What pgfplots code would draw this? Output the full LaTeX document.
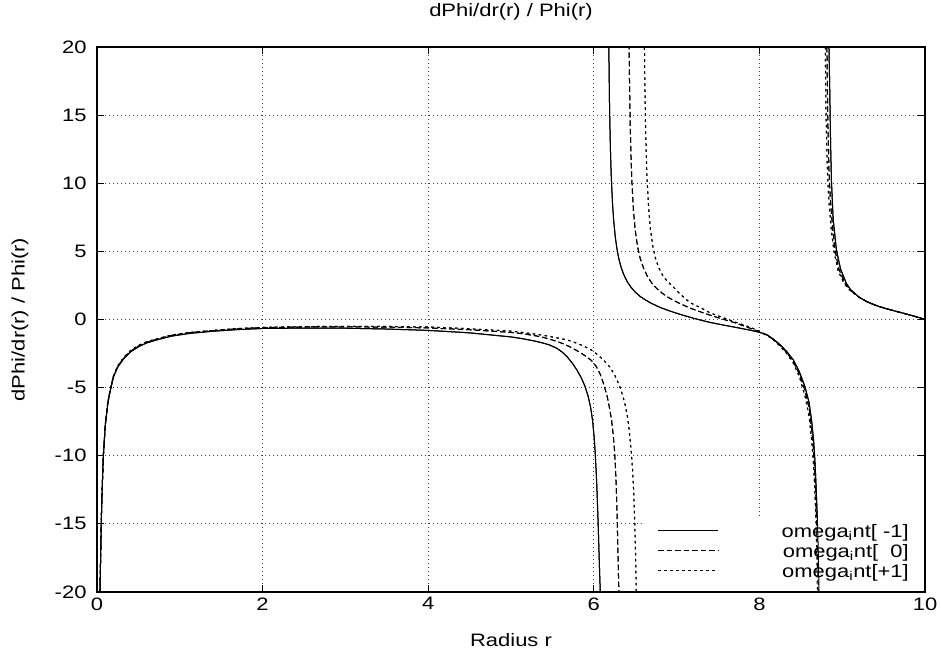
\documentclass[border=0pt]{standalone}
\usepackage{fontspec}
\setmainfont{Liberation Sans}[FakeStretch=1.22]
\usepackage{pgfplots}
\usepackage{pgfplotstable}
\pgfplotsset{compat=1.18}

% omega_int[-1]
\pgfplotstableread{
x y
0.036 -20
0.045 -17
0.055 -14
0.065 -12
0.076 -10.1
0.1 -7.8
0.13 -6.2
0.157 -5.3
0.2 -4.2
0.25 -3.5
0.32 -2.9
0.4 -2.4
0.5 -2.0
0.6 -1.72
0.72 -1.5
0.9 -1.22
1.12 -1.02
1.4 -0.86
1.7 -0.74
2.0 -0.66
2.5 -0.63
3.0 -0.64
3.5 -0.7
4.0 -0.8
4.5 -0.98
5.0 -1.28
5.11 -1.38
5.2 -1.48
5.3 -1.6
5.4 -1.75
5.47 -1.88
5.55 -2.1
5.62 -2.4
5.68 -2.75
5.74 -3.2
5.8 -3.75
5.85 -4.3
5.89 -4.85
5.93 -5.6
5.96 -6.4
5.985 -7.4
6.005 -8.7
6.02 -10.1
6.035 -12
6.05 -14.5
6.06 -16.5
6.07 -18.5
6.078 -20
nan nan
6.18 20.6
6.19 15.64
6.20 12.63
6.21 10.62
6.225 8.6
6.24 7.26
6.26 6.02
6.28 5.17
6.30 4.52
6.33 3.82
6.36 3.32
6.40 2.81
6.45 2.36
6.5 2.01
6.56 1.69
6.62 1.45
6.7 1.17
6.8 0.89
6.9 0.66
7.0 0.46
7.1 0.27
7.2 0.1
7.3 -0.06
7.4 -0.21
7.5 -0.33
7.6 -0.45
7.7 -0.56
7.8 -0.68
7.9 -0.8
8.0 -0.94
8.1 -1.15
8.17 -1.45
8.25 -1.85
8.33 -2.35
8.41 -2.97
8.48 -3.8
8.55 -4.93
8.6 -6.1
8.63 -7.4
8.655 -8.9
8.67 -10.3
8.685 -12.3
8.70 -14.7
8.71 -16.8
8.72 -20
nan nan
8.84 20
8.85 16.7
8.86 12.8
8.87 10.2
8.89 7.4
8.93 5.1
8.98 3.7
9.05 2.65
9.1 2.2
9.2 1.65
9.3 1.3
9.4 1.05
9.5 0.85
9.6 0.68
9.7 0.52
9.8 0.36
9.9 0.19
10 0
}\serA

% omega_int[0]
\pgfplotstableread{
x y
0.036 -20
0.045 -17
0.055 -14
0.065 -12
0.076 -10.05
0.1 -7.75
0.13 -6.15
0.157 -5.25
0.2 -4.15
0.25 -3.45
0.32 -2.85
0.4 -2.35
0.5 -1.95
0.6 -1.67
0.72 -1.45
0.9 -1.17
1.12 -0.97
1.4 -0.82
1.7 -0.68
2.0 -0.6
2.5 -0.55
3.0 -0.54
3.5 -0.56
4.0 -0.62
4.5 -0.75
5.0 -0.95
5.11 -1.02
5.2 -1.1
5.3 -1.2
5.4 -1.33
5.47 -1.45
5.55 -1.6
5.63 -1.78
5.71 -2.0
5.8 -2.3
5.88 -2.6
5.97 -3.0
6.03 -3.45
6.08 -4.05
6.12 -4.75
6.16 -5.6
6.19 -6.5
6.215 -7.4
6.235 -8.5
6.25 -9.6
6.262 -10.9
6.273 -12.6
6.282 -14.6
6.29 -16.7
6.297 -18.5
6.303 -20
nan nan
6.425 20.85
6.43 17.95
6.44 14.18
6.45 11.76
6.46 10.08
6.48 7.91
6.5 6.56
6.53 5.29
6.56 4.49
6.6 3.78
6.65 3.13
6.7 2.68
6.76 2.27
6.83 1.91
6.9 1.62
6.96 1.41
7.05 1.14
7.15 0.87
7.25 0.64
7.36 0.41
7.48 0.17
7.6 -0.05
7.7 -0.23
7.8 -0.45
7.9 -0.67
8.0 -0.9
8.1 -1.17
8.17 -1.48
8.25 -1.9
8.33 -2.42
8.41 -3.08
8.48 -3.97
8.55 -5.2
8.6 -6.5
8.63 -8.0
8.65 -9.3
8.665 -10.8
8.68 -12.8
8.69 -14.6
8.70 -16.8
8.71 -20
nan nan
8.815 20
8.825 15
8.84 11
8.855 9
8.88 7
8.91 5.2
8.96 3.7
9.03 2.7
9.1 2.15
9.2 1.65
9.3 1.3
9.4 1.05
9.5 0.85
9.6 0.68
9.7 0.52
9.8 0.36
9.9 0.19
10 0
}\serB

% omega_int[+1]
\pgfplotstableread{
x y
0.036 -20
0.045 -17
0.055 -14
0.065 -12
0.076 -10
0.1 -7.7
0.13 -6.1
0.157 -5.2
0.2 -4.1
0.25 -3.4
0.32 -2.8
0.4 -2.3
0.5 -1.9
0.6 -1.63
0.72 -1.42
0.9 -1.14
1.12 -0.95
1.4 -0.8
1.7 -0.66
2.0 -0.58
2.5 -0.52
3.0 -0.5
3.5 -0.51
4.0 -0.55
4.5 -0.68
5.0 -0.85
5.11 -0.93
5.2 -1.0
5.3 -1.08
5.4 -1.17
5.47 -1.25
5.55 -1.34
5.63 -1.44
5.71 -1.56
5.8 -1.75
5.88 -1.96
5.97 -2.24
6.05 -2.6
6.12 -3.0
6.19 -3.46
6.25 -4.05
6.31 -4.85
6.35 -5.6
6.38 -6.3
6.405 -7.1
6.425 -8.0
6.44 -8.9
6.455 -9.9
6.47 -11.2
6.482 -12.7
6.492 -14.4
6.5 -16.2
6.507 -18.1
6.513 -20
nan nan
6.61 20.85
6.615 17.99
6.625 14.18
6.635 11.76
6.645 10.08
6.665 7.91
6.685 6.56
6.715 5.29
6.745 4.49
6.785 3.78
6.835 3.2
6.885 2.82
6.95 2.45
7.02 2.0
7.1 1.55
7.16 1.25
7.2 1.12
7.3 0.83
7.4 0.5
7.5 0.27
7.6 0.05
7.7 -0.17
7.8 -0.38
7.9 -0.6
8.0 -0.85
8.1 -1.2
8.17 -1.5
8.25 -1.95
8.33 -2.5
8.41 -3.2
8.48 -4.15
8.55 -5.6
8.6 -7.1
8.63 -8.8
8.65 -10.3
8.665 -12
8.68 -14.3
8.69 -16.5
8.70 -20
nan nan
8.795 20
8.805 15
8.82 11
8.84 8.6
8.87 6.5
8.9 5.0
8.95 3.6
9.02 2.65
9.1 2.1
9.2 1.65
9.3 1.3
9.4 1.05
9.5 0.85
9.6 0.68
9.7 0.52
9.8 0.36
9.9 0.19
10 0
}\serC

\newcommand{\gfont}{\fontsize{18}{21}\selectfont}

\pgfplotsset{
  base/.style={
    at={(97pt,68pt)}, anchor=south west,
    scale only axis, width=828pt, height=545pt,
    xmin=0, xmax=10, ymin=-20, ymax=20,
    unbounded coords=jump,
  },
  solidA/.style={black, line width=1pt, solid},
  dashB/.style={black, line width=1pt, dash pattern=on 5.5pt off 3pt},
  dotC/.style={black, line width=1pt, dash pattern=on 2.5pt off 3.5pt},
}

\begin{document}
\begin{tikzpicture}
\path[use as bounding box] (0,0) rectangle (941pt,660pt);
\begin{axis}[
  base,
  axis line style={line width=1.2pt},
  xtick={0,2,4,6,8,10},
  ytick={-20,-15,-10,-5,0,5,10,15,20},
  xticklabels={0,2,4,6,8,10},
  yticklabels={-20,-15,-10,-5,0,5,10,15,20},
  tick align=inside,
  major tick length=7pt,
  tick style={black, line width=1pt},
  grid=major,
  major grid style={black!75, line width=0.8pt, dash pattern=on 1pt off 3pt},
  tick label style={font=\gfont},
  yticklabel style={xshift=-7pt},
  xticklabel style={yshift=-2pt},
  title={dPhi/dr(r) / Phi(r)},
  title style={font=\gfont, at={(axis description cs:0.5,1.0532)}, anchor=center},
  xlabel={Radius r},
  xlabel style={font=\gfont, at={(axis description cs:0.5,-0.088)}, anchor=center},
  ylabel={dPhi/dr(r) / Phi(r)},
  ylabel style={font=\gfont, at={(axis description cs:-0.093,0.5)}, anchor=center, rotate=0},
  legend style={at={(rel axis cs:1,0)}, anchor=south east, xshift=-1pt, yshift=1pt,
    draw=none, fill=white,
    inner xsep=15pt, inner ysep=6pt, row sep=0pt, font=\gfont,
    nodes={inner sep=0pt, text height=13pt, text depth=7pt},
    /tikz/every odd column/.append style={column sep=63pt}},
  legend cell align=right,
  legend image code/.code={\draw[#1] (0pt,4.5pt) -- (60pt,4.5pt);},
]
\addplot[solidA] table {\serA};
\addlegendentry{omega\textsubscript{i}nt[ -1]}
\addplot[dashB] table {\serB};
\addlegendentry{omega\textsubscript{i}nt[\ \ 0]}
\addplot[dotC] table {\serC};
\addlegendentry{omega\textsubscript{i}nt[+1]}
\end{axis}
\begin{axis}[base, hide axis]
\addplot[solidA] table {\serA};
\addplot[dashB] table {\serB};
\addplot[dotC] table {\serC};
\end{axis}
\end{tikzpicture}
\end{document}
